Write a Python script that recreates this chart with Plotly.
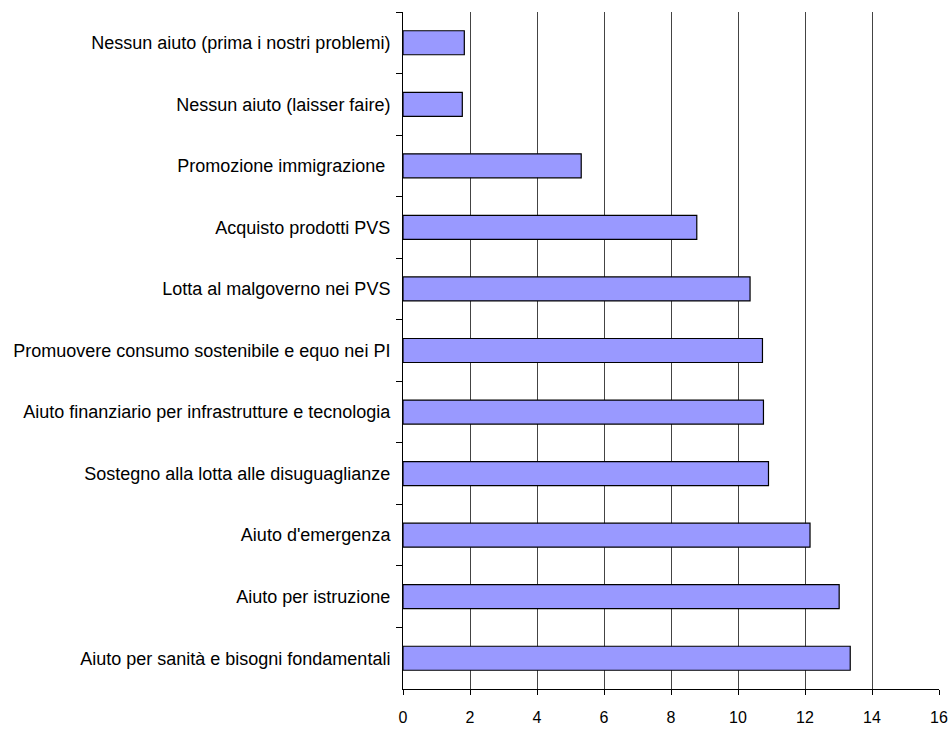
import plotly.graph_objects as go

categories = [
    "Nessun aiuto (prima i nostri problemi)",
    "Nessun aiuto (laisser faire)",
    "Promozione immigrazione ",
    "Acquisto prodotti PVS",
    "Lotta al malgoverno nei PVS",
    "Promuovere consumo sostenibile e equo nei PI",
    "Aiuto finanziario per infrastrutture e tecnologia",
    "Sostegno alla lotta alle disuguaglianze",
    "Aiuto d'emergenza",
    "Aiuto per istruzione",
    "Aiuto per sanità e bisogni fondamentali",
]
values = [1.83, 1.77, 5.32, 8.77, 10.36, 10.73, 10.76, 10.91, 12.15, 13.02, 13.35]
x_ticks = [0, 2, 4, 6, 8, 10, 12, 14, 16]

FONT = "Liberation Sans, Arial, sans-serif"

fig = go.Figure()
fig.add_trace(go.Bar(
    y=categories,
    x=values,
    orientation="h",
    marker=dict(color="#9999FF", line=dict(color="#000000", width=1.2)),
    width=0.39,
))

fig.update_layout(
    width=948,
    height=729,
    margin=dict(l=403, r=9, t=12, b=40),
    plot_bgcolor="white",
    paper_bgcolor="white",
    font=dict(family=FONT, color="#000000"),
    showlegend=False,
    xaxis=dict(
        range=[0, 16],
        tickvals=x_ticks,
        showgrid=True,
        gridcolor="#444444",
        gridwidth=1,
        showline=True,
        linecolor="#000000",
        linewidth=1,
        ticks="outside",
        ticklen=5,
        tickcolor="#000000",
        tickfont=dict(size=16, family=FONT),
        zeroline=False,
        ticklabelstandoff=9,
        automargin=False,
    ),
    yaxis=dict(
        categoryorder="array",
        categoryarray=categories,
        autorange="reversed",
        showline=True,
        linecolor="#000000",
        linewidth=1,
        ticks="outside",
        tickson="boundaries",
        ticklen=6,
        tickcolor="#000000",
        tickfont=dict(size=18, family=FONT),
        showgrid=False,
        ticklabelstandoff=8,
        automargin=False,
    ),
)

fig.write_html(
    "out.html",
    config={"displayModeBar": False},
    post_script="document.body.style.margin='0';document.body.style.overflow='hidden';",
)
